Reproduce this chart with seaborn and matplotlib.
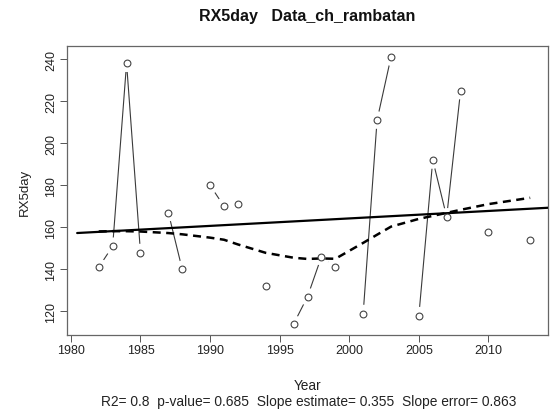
import numpy as np
import pandas as pd
import matplotlib
matplotlib.use("Agg")
import matplotlib.pyplot as plt
import seaborn as sns

# ---- data ----
years = list(range(1981, 2014))
rx5day = [np.nan, 141, 151, 238, 148, np.nan, 167, 140, np.nan, 180,
          170, 171, np.nan, 132, np.nan, 114, 127, 146, 141, np.nan,
          119, 211, 241, np.nan, 118, 192, 165, 225, np.nan, 158,
          np.nan, np.nan, 154]
title = "RX5day   Data_ch_rambatan"
ylabel = "RX5day"
xlabel = "Year"
subtitle = "R2= 0.8  p-value= 0.685  Slope estimate= 0.355  Slope error= 0.863"
xticks = [1980, 1985, 1990, 1995, 2000, 2005, 2010]
yticks = [120, 140, 160, 180, 200, 220, 240]


def lowess(x, y, f=2/3, iters=3):
    n = len(x)
    ns = max(2, min(n, int(f * n + 1e-7)))
    rw = np.ones(n)
    fit = np.zeros(n)
    for it in range(iters + 1):
        for i in range(n):
            d = np.abs(x - x[i])
            h = np.sort(d)[ns - 1]
            w = np.zeros(n)
            r = d / h
            inside = d <= 0.999 * h
            w[inside] = (1 - r[inside] ** 3) ** 3
            w[d <= 0.001 * h] = 1.0
            w = w * rw
            sw = w.sum()
            w = w / sw
            a = np.sum(w * x)
            b = np.sum(w * (x - a) ** 2)
            if np.sqrt(b) > 0.001 * (x.max() - x.min()):
                bb = (x[i] - a) / b
                w = w * (bb * (x - a) + 1)
            fit[i] = np.sum(w * y)
        if it == iters:
            break
        res = np.abs(y - fit)
        cmad = 6 * np.median(res)
        rr = res / cmad
        rw = np.where(rr < 0.001, 1.0, np.where(rr > 0.999, 0.0, (1 - rr ** 2) ** 2))
    return fit


df = pd.DataFrame({"year": years, "value": rx5day})
df["seg"] = df["value"].isna().cumsum()
obs = df.dropna().reset_index(drop=True)
obs["smooth"] = lowess(obs["year"].to_numpy(float), obs["value"].to_numpy(float))

sns.set_style("ticks")
plt.rcParams["font.family"] = ["Liberation Sans", "DejaVu Sans"]

fig = plt.figure(figsize=(5.52, 4.14), dpi=100)
ax = fig.add_axes([67 / 552, 1 - 335.7 / 414, (548 - 67) / 552, (335.7 - 47.3) / 414])

dark = "#3a3a3a"
# connecting lines (type "b")
sns.lineplot(data=obs, x="year", y="value", units="seg", estimator=None,
             color=dark, lw=0.8, ax=ax, zorder=1, sort=True)
# gaps around points
sns.scatterplot(data=obs, x="year", y="value", s=160, color="white",
                edgecolor="none", linewidth=0, ax=ax, zorder=2)
# linear trend
sns.regplot(data=obs, x="year", y="value", ci=None, scatter=False,
            truncate=False, ax=ax, color="black",
            line_kws={"lw": 1.6, "zorder": 3})
# smoother
sns.lineplot(data=obs, x="year", y="smooth", color="black", lw=1.8,
             ax=ax, zorder=3, linestyle=(0, (3.2, 2.2)))
# points
sns.scatterplot(data=obs, x="year", y="value", s=24, facecolor="white",
                edgecolor="#444444", linewidth=0.8, ax=ax, zorder=4)

x0, x1 = min(years), max(years)
vals = obs["value"]
y0, y1 = vals.min(), vals.max()
ax.set_xlim(x0 - 0.04 * (x1 - x0), x1 + 0.04 * (x1 - x0))
ax.set_ylim(y0 - 0.04 * (y1 - y0), y1 + 0.04 * (y1 - y0))
ax.set_xticks(xticks)
ax.set_yticks(yticks)
ax.set_xticklabels([str(t) for t in xticks], fontsize=9)
ax.set_yticklabels([str(t) for t in yticks], fontsize=9, rotation=90, va="center")
ax.tick_params(direction="out", length=5, width=0.7, color="#555555",
               labelcolor="#222222", pad=2)
for s in ax.spines.values():
    s.set_visible(True)
    s.set_color("#666666")
    s.set_linewidth(0.9)
ax.set_xlabel("")
ax.set_ylabel("")

fig.text(307 / 552, 1 - 17 / 414, title,
         ha="center", va="center", fontsize=11.5, fontweight="bold", color="#111111")
fig.text(25 / 552, 1 - 192 / 414, ylabel, rotation=90, ha="center", va="center",
         fontsize=9.5, color="#222222")
fig.text(308 / 552, 1 - 386 / 414, xlabel, ha="center", va="center",
         fontsize=9.8, color="#222222")
fig.text(309 / 552, 1 - 402 / 414, subtitle, ha="center", va="center",
         fontsize=9.9, color="#222222")

fig.savefig("out.png", dpi=100)
